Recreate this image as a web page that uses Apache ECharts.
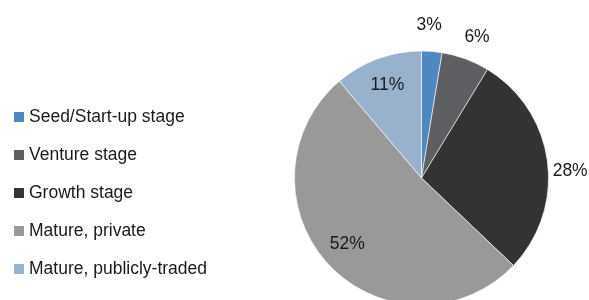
<!DOCTYPE html>
<html>
<head>
<meta charset="utf-8">
<script src="https://cdn.jsdelivr.net/npm/echarts@6/dist/echarts.min.js"></script>
<style>html,body{margin:0;padding:0;background:#fff}#c{width:589px;height:300px}</style>
</head>
<body>
<div id="c"></div>
<script>
var categories = ["Seed/Start-up stage", "Venture stage", "Growth stage", "Mature, private", "Mature, publicly-traded"];
var shares = [2.6, 6.1, 28.4, 51.7, 11.2];
var labelTexts = ["3%", "6%", "28%", "52%", "11%"];
var colors = ["#4f87bf", "#5e5f63", "#333333", "#999999", "#98b1cd"];
var outsideLabel = [true, true, true, false, false];

// label nudges (style only)
var labelNudge = [[-5, 1], [2, 4], [-4, 13], [0, -4], [1, 3]];

var FONT = "'Liberation Sans', Arial, sans-serif";
var chart = echarts.init(document.getElementById('c'), null, {renderer: 'canvas'});
var cx = 421.5, cy = 178, R = 127;

function baseData() {
  return categories.map(function (n, i) {
    return {name: n, value: shares[i], itemStyle: {color: colors[i]}};
  });
}
function labelData(wantOutside) {
  return categories.map(function (n, i) {
    return {
      name: n, value: shares[i],
      label: {show: outsideLabel[i] === wantOutside, formatter: labelTexts[i], offset: labelNudge[i]}
    };
  });
}
var labelStyle = {position: 'inside', color: '#1a1a1a', fontFamily: FONT, fontSize: 17.5};

chart.setOption({
  animation: false,
  legend: {
    orient: 'vertical', left: 12, top: 108, padding: 0,
    itemWidth: 12, itemHeight: 12, itemGap: 20,
    icon: 'rect',
    data: categories,
    textStyle: {color: '#1a1a1a', fontFamily: FONT, fontSize: 17.5, lineHeight: 17, padding: [0, 0, 0, -1]}
  },
  series: [
    {
      type: 'pie', center: [cx, cy], radius: [0, R], startAngle: 90, clockwise: true,
      label: {show: false}, labelLine: {show: false}, silent: true,
      itemStyle: {borderColor: '#ffffff', borderWidth: 0.6},
      emphasis: {disabled: true},
      data: baseData()
    },
    {
      type: 'pie', center: [cx, cy], radius: [0, 302], startAngle: 90, clockwise: true,
      silent: true, emphasis: {disabled: true},
      itemStyle: {color: 'rgba(0,0,0,0)'},
      label: labelStyle, labelLine: {show: false},
      data: labelData(true)
    },
    {
      type: 'pie', center: [cx, cy], radius: [0, 198], startAngle: 90, clockwise: true,
      silent: true, emphasis: {disabled: true},
      itemStyle: {color: 'rgba(0,0,0,0)'},
      label: labelStyle, labelLine: {show: false},
      data: labelData(false)
    }
  ]
});
</script>
</body>
</html>
